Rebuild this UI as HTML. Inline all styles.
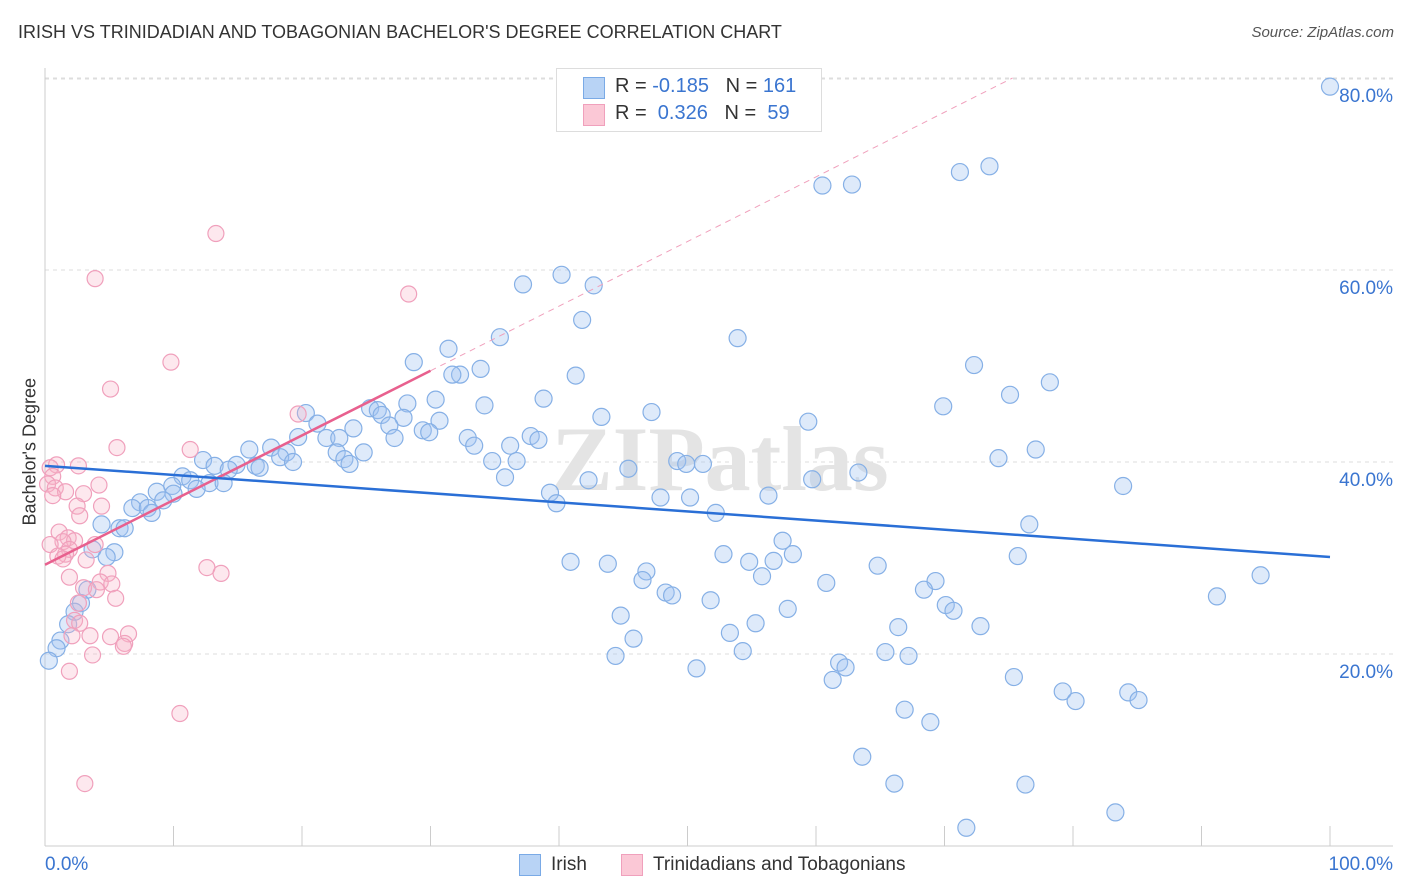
<!DOCTYPE html>
<html><head><meta charset="utf-8"><style>
body{margin:0;background:#fff;font-family:"Liberation Sans",sans-serif;}
#wrap{position:relative;width:1406px;height:892px;overflow:hidden;}
.t{position:absolute;white-space:nowrap;}
</style></head><body>
<div id="wrap">
<div class="t" style="left:18px;top:22px;font-size:18px;color:#333;">IRISH VS TRINIDADIAN AND TOBAGONIAN BACHELOR'S DEGREE CORRELATION CHART</div>
<div class="t" style="right:12px;top:24px;font-size:15px;color:#555;font-style:italic;">Source: ZipAtlas.com</div>
<div class="t" style="left:-40px;top:445px;font-size:18px;color:#333;transform:rotate(-90deg);transform-origin:center;width:140px;text-align:center;">Bachelor's Degree</div>
<svg id="svg" width="1406" height="892" style="position:absolute;left:0;top:0"></svg>
<div style="position:absolute;left:556px;top:68px;width:264px;height:62px;border:1px solid #ddd;background:#fff;font-size:20px;color:#333;">
 <div style="position:absolute;left:26px;top:8px;width:20px;height:20px;background:#b8d3f5;border:1px solid #7aaae6;"></div>
 <div class="t" style="left:58px;top:6px;">R = <span style="color:#3a75d0">-0.185</span>&nbsp;&nbsp;&nbsp;N = <span style="color:#3a75d0">161</span></div>
 <div style="position:absolute;left:26px;top:35px;width:20px;height:20px;background:#fbc8d6;border:1px solid #f0a0bc;"></div>
 <div class="t" style="left:58px;top:33px;">R = &nbsp;<span style="color:#3a75d0">0.326</span>&nbsp;&nbsp;&nbsp;N = &nbsp;<span style="color:#3a75d0">59</span></div>
</div>
<div style="position:absolute;left:519px;top:854px;font-size:19px;color:#333;">
 <div style="position:absolute;left:0;top:0;width:20px;height:20px;background:#b8d3f5;border:1px solid #7aaae6;"></div>
 <div class="t" style="left:32px;top:0px;">Irish</div></div>
<div style="position:absolute;left:621px;top:854px;font-size:19px;color:#333;">
 <div style="position:absolute;left:0;top:0;width:20px;height:20px;background:#fbc8d6;border:1px solid #f0a0bc;"></div>
 <div class="t" style="left:32px;top:0px;">Trinidadians and Tobagonians</div></div>
</div>
<script>
const yTicks=[20,40,60,80];
const xTickLabels=["0.0%","100.0%"];
const blueX=[100,73.5,71.2,60.5,62.8,40.2,37.2,42.7,41.8,53.9,35.4,31.4,28.7,33.9,32.3,31.7,41.3,72.3,78.2,75.1,38.8,30.4,28.2,34.2,25.3,25.9,69.9,47.2,43.3,26.2,27.9,20.3,59.4,30.7,26.8,24.0,21.2,29.4,29.9,27.2,19.7,21.9,22.9,32.9,37.8,38.4,36.2,33.4,77.1,15.9,17.6,18.8,22.7,24.8,18.3,23.3,74.2,12.3,49.2,49.9,51.2,34.8,36.7,19.3,23.7,13.2,14.9,16.4,14.3,16.7,45.4,63.3,10.7,35.8,42.3,59.7,11.3,12.8,13.9,9.9,83.9,11.8,8.7,10.0,39.3,56.3,47.9,50.2,9.2,7.4,39.8,6.8,8.0,8.3,52.2,76.6,4.4,5.8,6.2,57.4,3.7,5.4,4.8,52.8,58.2,75.7,40.9,43.8,54.8,56.7,64.8,94.6,46.8,55.8,46.5,60.8,69.3,68.4,48.3,48.8,3.3,91.2,51.8,2.8,70.1,70.7,57.8,2.3,44.8,55.3,1.8,72.8,66.4,53.3,45.8,1.2,0.9,65.4,54.3,67.2,44.4,0.3,61.8,62.3,50.7,75.4,61.3,79.2,84.3,80.2,85.1,66.9,68.9,63.6,66.1,76.3,83.3,71.7];
const blueY=[79.1,70.8,70.2,68.8,68.9,59.5,58.5,58.4,54.8,52.9,53.0,51.8,50.4,49.7,49.1,49.1,49.0,50.1,48.3,47.0,46.6,46.5,46.1,45.9,45.6,45.4,45.8,45.2,44.7,44.9,44.6,45.1,44.2,44.3,43.8,43.5,44.0,43.3,43.1,42.5,42.6,42.5,42.5,42.5,42.7,42.3,41.7,41.7,41.3,41.3,41.5,41.0,41.0,41.0,40.5,40.3,40.4,40.2,40.1,39.8,39.8,40.1,40.1,40.0,39.8,39.6,39.7,39.6,39.2,39.4,39.3,38.9,38.5,38.4,38.1,38.2,38.1,37.8,37.8,37.5,37.5,37.2,36.9,36.7,36.8,36.5,36.3,36.3,36.0,35.8,35.7,35.2,35.2,34.7,34.7,33.5,33.5,33.1,33.1,31.8,30.9,30.6,30.1,30.4,30.4,30.2,29.6,29.4,29.6,29.7,29.2,28.2,28.6,28.1,27.7,27.4,27.6,26.7,26.4,26.1,26.7,26.0,25.6,25.3,25.1,24.5,24.7,24.4,24.0,23.2,23.1,22.9,22.8,22.2,21.6,21.4,20.6,20.2,20.3,19.8,19.8,19.3,19.1,18.6,18.5,17.6,17.3,16.1,16.0,15.1,15.2,14.2,12.9,9.3,6.5,6.4,3.5,1.9];
const pinkX=[13.3,3.9,28.3,9.8,5.1,19.7,5.6,11.3,0.9,2.6,0.4,0.6,0.2,0.8,1.6,3.0,4.2,0.6,2.5,4.4,2.7,1.1,1.8,2.3,1.4,0.4,3.9,1.9,1.6,1.0,1.4,3.2,12.6,13.7,4.9,1.9,4.3,5.2,3.0,4.0,5.5,2.6,2.3,2.7,3.5,2.1,5.1,6.5,6.2,6.1,3.7,1.9,10.5,3.1];
const pinkY=[63.8,59.1,57.5,50.4,47.6,45.0,41.5,41.3,39.7,39.6,39.4,38.5,37.7,37.3,36.9,36.7,37.6,36.5,35.4,35.4,34.4,32.7,32.1,31.8,31.7,31.4,31.4,30.9,30.4,30.2,29.9,29.8,29.0,28.4,28.4,28.0,27.5,27.3,26.9,26.7,25.8,25.3,23.5,23.2,21.9,21.9,21.8,22.1,21.1,20.8,19.9,18.2,13.8,6.5];
const blueTrend=[39.6,30.1];
const pinkTrend=[29.3,49.5,30];
const ns="http://www.w3.org/2000/svg";
const svg=document.getElementById('svg');
const X=v=>45+v*12.85, Y=v=>846-v*9.6;
function mk(t,a){const e=document.createElementNS(ns,t);for(const k in a)e.setAttribute(k,a[k]);svg.appendChild(e);return e;}
yTicks.forEach(t=>{
 const g=mk('line',{x1:45,x2:1393,y1:Y(t),y2:Y(t),stroke:'#ddd','stroke-dasharray':'4,4'});
 
 
 const tx=mk('text',{x:1393,y:Y(t)+24,'text-anchor':'end','font-size':19,fill:'#3a75d0','font-family':'Liberation Sans'});
 tx.textContent=t.toFixed(1)+'%';
 
 
});
const topGrid=mk('line',{x1:45,x2:1393,y1:79,y2:79,stroke:'#ddd','stroke-dasharray':'4,4'});


const ax=mk('line',{x1:45,x2:1393,y1:846,y2:846,stroke:'#ccc'});


const ay=mk('line',{x1:45,x2:45,y1:68,y2:846,stroke:'#ccc'});


for(let i=0;i<=10;i++){
 const tk=mk('line',{x1:X(i*10),x2:X(i*10),y1:826,y2:846,stroke:'#ccc'});
 
 
}
[[0,'start',45],[1,'end',1393]].forEach(([i,a,x])=>{
 const tx=mk('text',{x:x,y:870,'text-anchor':a,'font-size':19,fill:'#3a75d0','font-family':'Liberation Sans'});
 tx.textContent=xTickLabels[i];
 
 
});
const wm=mk('text',{x:720,y:490,'text-anchor':'middle','font-size':92,fill:'#e4e4e4','font-family':'Liberation Serif','font-weight':'bold'});
wm.textContent='ZIPatlas';


blueX.forEach((x,i)=>{
 const c=mk('circle',{cx:X(x),cy:Y(blueY[i]),r:8.5,fill:'rgba(160,196,240,0.35)',stroke:'#86b0e6','stroke-width':1.2});
 
 
});
pinkX.forEach((x,i)=>{
 const c=mk('circle',{cx:X(x),cy:Y(pinkY[i]),r:8,fill:'rgba(248,180,200,0.3)',stroke:'#f0a0bc','stroke-width':1.2});
 
 
});
const slope=(pinkTrend[1]-pinkTrend[0])/pinkTrend[2];
const ext=(80-pinkTrend[0])/slope;
const pd=mk('line',{x1:X(pinkTrend[2]),y1:Y(pinkTrend[1]),x2:X(ext),y2:Y(80),stroke:'#f0a0bc','stroke-dasharray':'6,5','stroke-width':1});


const pl=mk('line',{x1:X(0),y1:Y(pinkTrend[0]),x2:X(pinkTrend[2]),y2:Y(pinkTrend[1]),stroke:'#e8608e','stroke-width':2.5});


const bl=mk('line',{x1:X(0),y1:Y(blueTrend[0]),x2:X(100),y2:Y(blueTrend[1]),stroke:'#2a6fd6','stroke-width':2.5});


</script>
</body></html>
